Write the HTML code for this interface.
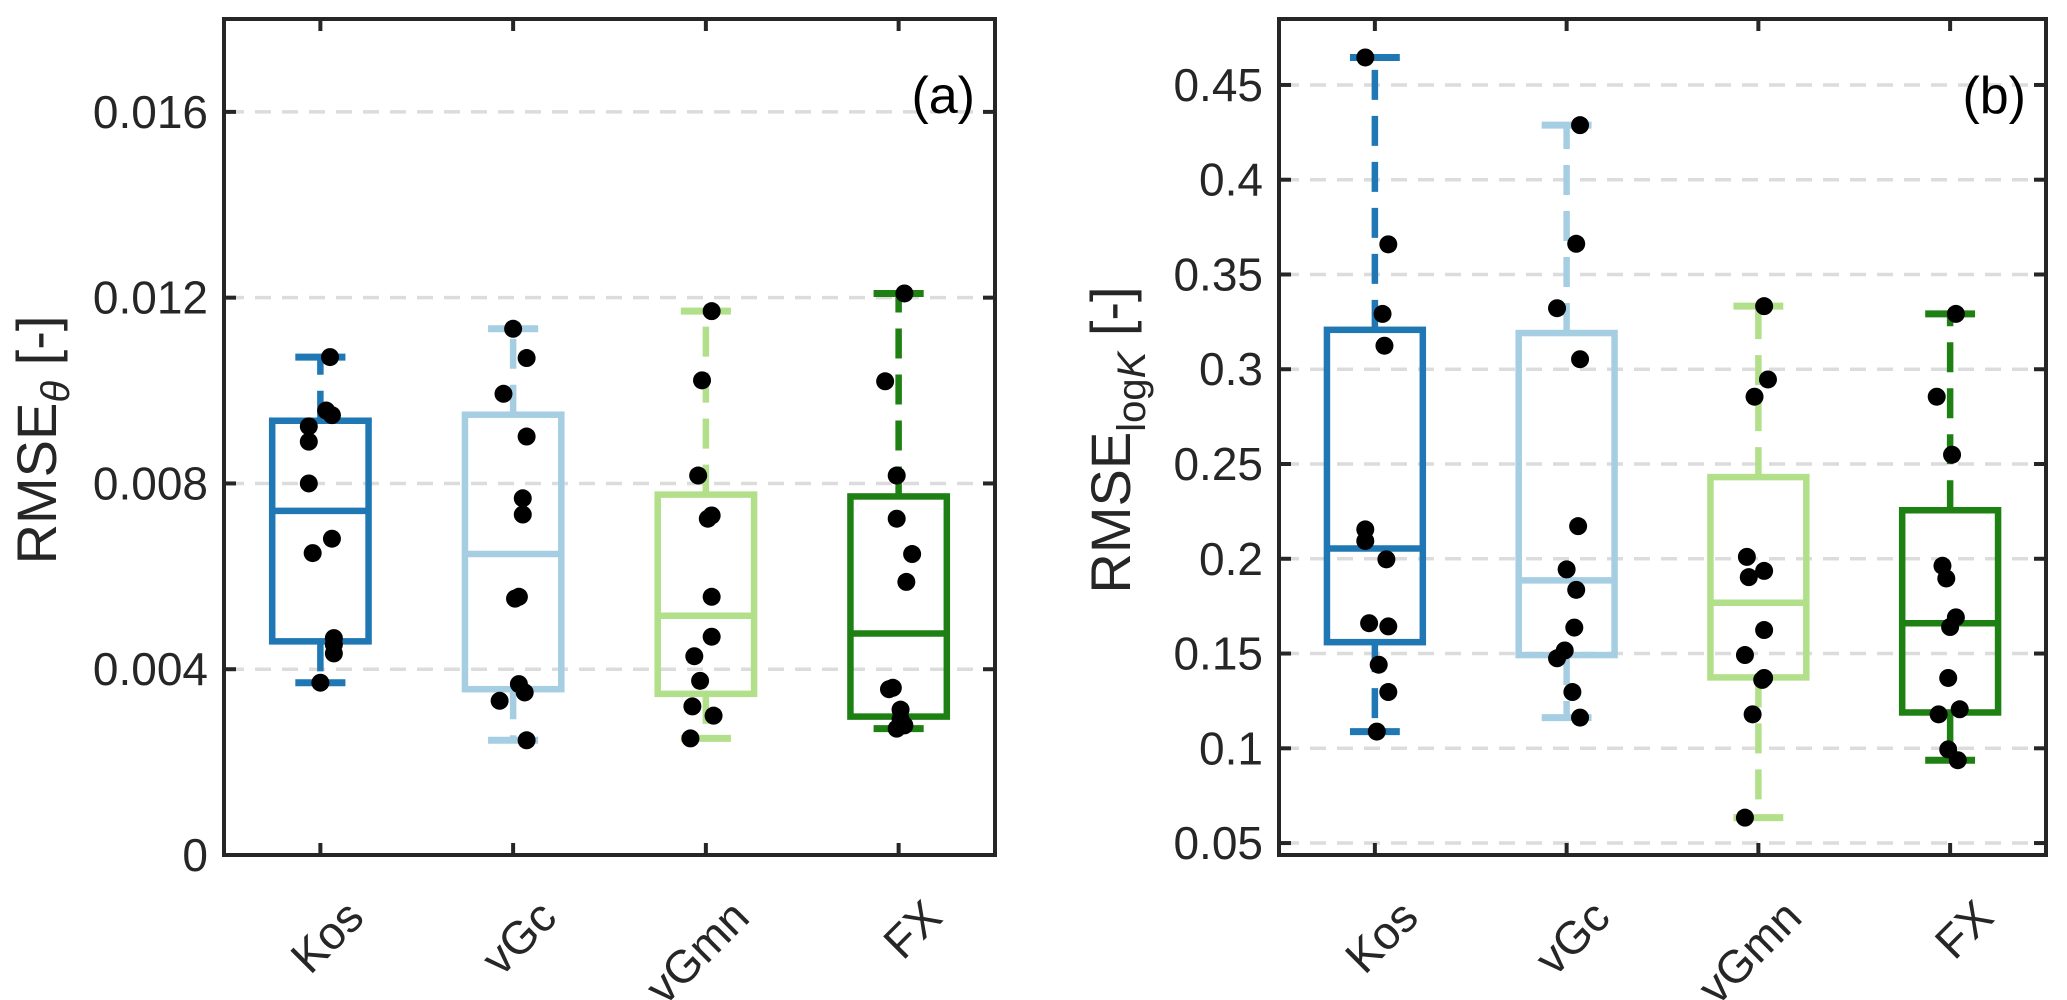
<!DOCTYPE html>
<html><head><meta charset="utf-8"><style>
html,body{margin:0;padding:0;background:#fff;}
svg{display:block;font-family:"Liberation Sans",sans-serif;}
</style></head><body>
<svg id="chart" width="2067" height="1000" viewBox="0 0 2067 1000" xmlns="http://www.w3.org/2000/svg"></svg>
<script>
const categories = ["Kos","vGc","vGmn","FX"];
const colors = ["#1f77b4","#a6cee3","#b2df8a","#1e8012"];
// Panel (a) RMSE theta
const aTicks = [0,0.004,0.008,0.012,0.016];
const aTickLabels = ["0","0.004","0.008","0.012","0.016"];
const aQ1 = [0.0046,0.00357,0.00347,0.00298];
const aMed = [0.00741,0.00648,0.00515,0.00477];
const aQ3 = [0.00935,0.00948,0.00776,0.00772];
const aLo = [0.00371,0.00247,0.00251,0.00272];
const aHi = [0.01072,0.01133,0.01171,0.01209];
const aPoints = [
 [0.01072,0.00957,0.00947,0.00923,0.0089,0.0080,0.00681,0.0065,0.00467,0.00453,0.00434,0.00371],
 [0.01133,0.0107,0.00993,0.00901,0.00768,0.00733,0.00556,0.00552,0.00368,0.0035,0.00332,0.00247],
 [0.01171,0.01022,0.00817,0.00731,0.00724,0.00556,0.0047,0.00428,0.00375,0.0032,0.003,0.00251],
 [0.01209,0.0102,0.00817,0.00724,0.00648,0.00588,0.0036,0.00357,0.00313,0.00293,0.00279,0.00272]];
const aJitter = [
 [0.05,0.03,0.06,-0.06,-0.06,-0.06,0.06,-0.04,0.07,0.07,0.07,0],
 [0,0.07,-0.05,0.07,0.05,0.05,0.03,0.01,0.03,0.06,-0.07,0.07],
 [0.03,-0.02,-0.04,0.03,0.01,0.03,0.03,-0.06,-0.03,-0.07,0.04,-0.08],
 [0.03,-0.07,-0.01,-0.01,0.07,0.04,-0.03,-0.05,0.01,0.01,0.03,-0.01]];
// Panel (b) RMSE logK
const bTicks = [0.05,0.1,0.15,0.2,0.25,0.3,0.35,0.4,0.45];
const bTickLabels = ["0.05","0.1","0.15","0.2","0.25","0.3","0.35","0.4","0.45"];
const bQ1 = [0.156,0.1492,0.1374,0.1189];
const bMed = [0.2054,0.1886,0.1768,0.166];
const bQ3 = [0.3208,0.3191,0.2431,0.2256];
const bLo = [0.1088,0.1162,0.0634,0.0937];
const bHi = [0.4645,0.4288,0.3333,0.3292];
const bPoints = [
 [0.4645,0.3659,0.3292,0.3124,0.2155,0.2094,0.1997,0.166,0.1643,0.1441,0.1297,0.1088],
 [0.4288,0.3662,0.3322,0.3053,0.2172,0.1944,0.1836,0.1637,0.1516,0.1475,0.1297,0.1162],
 [0.3333,0.2946,0.2855,0.201,0.1936,0.1903,0.1624,0.1492,0.1371,0.1361,0.1179,0.0634],
 [0.3292,0.2855,0.2549,0.1963,0.1896,0.1691,0.164,0.1371,0.1206,0.1179,0.0994,0.0937]];
const bJitter = [
 [-0.05,0.07,0.04,0.05,-0.05,-0.05,0.06,-0.03,0.07,0.02,0.07,0.01],
 [0.07,0.05,-0.05,0.07,0.06,0,0.05,0.04,-0.01,-0.05,0.03,0.07],
 [0.03,0.05,-0.02,-0.06,0.03,-0.05,0.03,-0.07,0.03,0.02,-0.03,-0.07],
 [0.03,-0.07,0.01,-0.04,-0.02,0.03,0,-0.01,0.05,-0.06,-0.01,0.04]];

const NS="http://www.w3.org/2000/svg";
const svg=document.getElementById('chart');
function mk(tag,attrs,parent){const e=document.createElementNS(NS,tag);for(const k in attrs)e.setAttribute(k,attrs[k]);(parent||svg).appendChild(e);return e;}

function panel(opt){
 const g=mk('g',{});
 
 
 const L=opt.left,R=opt.right,T=19,B=855;
 const xs=v=>L+(v-0.5)/4*(R-L);
 const ys=v=>B-(v-opt.ymin)/(opt.ymax-opt.ymin)*(B-T);
 opt.ticks.forEach((t,i)=>{
  if(t===0) return;
  const gl=mk('line',{x1:L+4,x2:R-4,y1:ys(t),y2:ys(t),stroke:'#dcdcdc','stroke-width':3.5,'stroke-dasharray':'16 11'},g);
  
  
 });
 categories.forEach((c,i)=>{
  const cx=xs(i+1),hw=0.25*(R-L)/4,cw=0.13*(R-L)/4,col=colors[i];
  const bg=mk('g',{},g);
  
  
  mk('line',{x1:cx,x2:cx,y1:ys(opt.q3[i]),y2:ys(opt.hi[i]),stroke:col,'stroke-width':6.5,'stroke-dasharray':'30 16'},bg);
  mk('line',{x1:cx,x2:cx,y1:ys(opt.q1[i]),y2:ys(opt.lo[i]),stroke:col,'stroke-width':6.5,'stroke-dasharray':'30 16'},bg);
  mk('line',{x1:cx-cw,x2:cx+cw,y1:ys(opt.hi[i]),y2:ys(opt.hi[i]),stroke:col,'stroke-width':7},bg);
  mk('line',{x1:cx-cw,x2:cx+cw,y1:ys(opt.lo[i]),y2:ys(opt.lo[i]),stroke:col,'stroke-width':7},bg);
  mk('rect',{x:cx-hw,y:ys(opt.q3[i]),width:2*hw,height:ys(opt.q1[i])-ys(opt.q3[i]),fill:'none',stroke:col,'stroke-width':6.5},bg);
  mk('line',{x1:cx-hw,x2:cx+hw,y1:ys(opt.med[i]),y2:ys(opt.med[i]),stroke:col,'stroke-width':6.5},bg);
 });
 categories.forEach((c,i)=>{
  opt.points[i].forEach((v,j)=>{
   const p=mk('circle',{cx:xs(i+1+opt.jitter[i][j]),cy:ys(v),r:9,fill:'#000'},g);
   
   
  });
 });
 const ax=mk('rect',{x:L,y:T,width:R-L,height:B-T,fill:'none',stroke:'#262626','stroke-width':4},g);
 
 
 opt.ticks.forEach((t,i)=>{
  const y=ys(t);
  mk('line',{x1:L,x2:L+12,y1:y,y2:y,stroke:'#262626','stroke-width':4},g);
  mk('line',{x1:R,x2:R-12,y1:y,y2:y,stroke:'#262626','stroke-width':4},g);
  const tl=mk('text',{x:L-16,y:y+16,'text-anchor':'end','font-size':46,fill:'#262626'},g);
  tl.textContent=opt.tickLabels[i];
  
  
 });
 categories.forEach((c,i)=>{
  const x=xs(i+1);
  mk('line',{x1:x,x2:x,y1:B,y2:B-12,stroke:'#262626','stroke-width':4},g);
  mk('line',{x1:x,x2:x,y1:T,y2:T+12,stroke:'#262626','stroke-width':4},g);
  const ax2=x+22,ay=896;
  const xl=mk('text',{x:ax2,y:ay,'text-anchor':'end','font-size':46,fill:'#262626',transform:`rotate(-45 ${ax2} ${ay})`,'dominant-baseline':'hanging'},g);
  xl.textContent=c;
  
  
 });
 const pl=mk('text',{x:R-20,y:113,'text-anchor':'end','font-size':52,fill:'#000'},g);
 pl.textContent=opt.tag;
 
 
 const yt=mk('text',{x:0,y:0,'text-anchor':'middle','font-size':56,fill:'#262626',transform:`translate(${opt.ytx},440) rotate(-90)`},g);
 
 
 yt.innerHTML=opt.ytitle;
}

panel({name:'panel-a',left:224,right:995,ymin:0,ymax:0.018,ticks:aTicks,tickLabels:aTickLabels,q1:aQ1,med:aMed,q3:aQ3,lo:aLo,hi:aHi,points:aPoints,jitter:aJitter,tag:'(a)',ytx:56,
 ytitle:'RMSE<tspan font-size="40" font-style="italic" dy="13">θ</tspan><tspan dy="-13"> [-]</tspan>'});
panel({name:'panel-b',left:1279,right:2046,ymin:0.0437,ymax:0.4848,ticks:bTicks,tickLabels:bTickLabels,q1:bQ1,med:bMed,q3:bQ3,lo:bLo,hi:bHi,points:bPoints,jitter:bJitter,tag:'(b)',ytx:1130,
 ytitle:'RMSE<tspan font-size="40" dy="15">log<tspan font-style="italic">K</tspan></tspan><tspan dy="-15"> [-]</tspan>'});
</script>
</body></html>
